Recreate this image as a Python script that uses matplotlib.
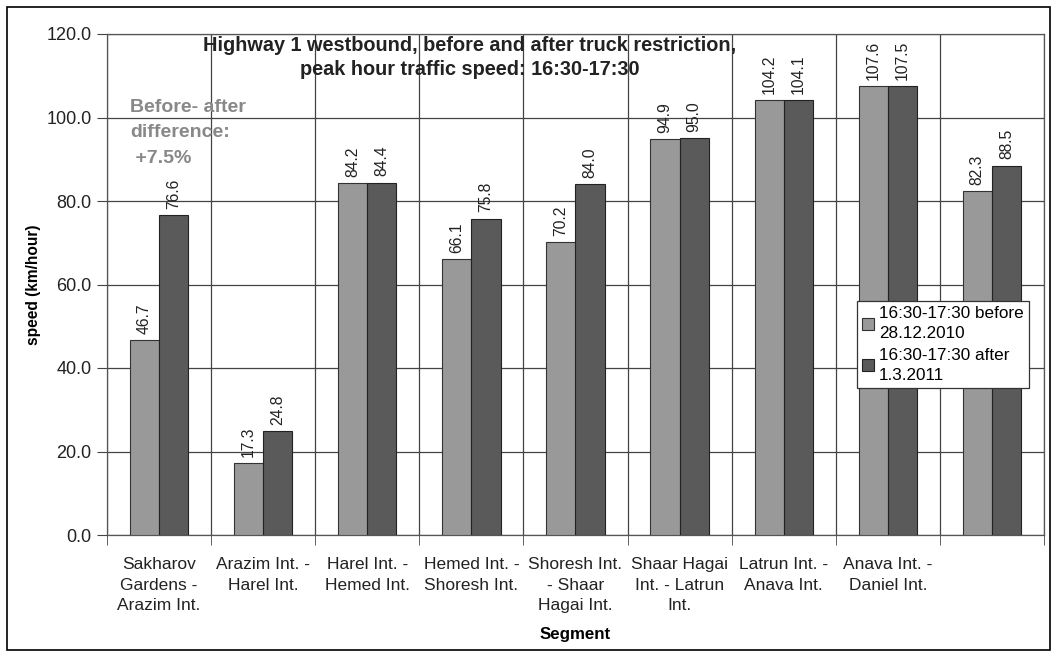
import matplotlib
matplotlib.use("Agg")
import matplotlib.pyplot as plt
import numpy as np
from matplotlib.patches import Rectangle

segments = ["Sakharov\nGardens -\nArazim Int.", "Arazim Int. -\nHarel Int.",
            "Harel Int. -\nHemed Int.", "Hemed Int. -\nShoresh Int.",
            "Shoresh Int.\n- Shaar\nHagai Int.", "Shaar Hagai\nInt. - Latrun\nInt.",
            "Latrun Int. -\nAnava Int.", "Anava Int. -\nDaniel Int.", ""]
before = [46.7, 17.3, 84.2, 66.1, 70.2, 94.9, 104.2, 107.6, 82.3]
after = [76.6, 24.8, 84.4, 75.8, 84.0, 95.0, 104.1, 107.5, 88.5]

plt.rcParams['font.family'] = ['Liberation Sans', 'DejaVu Sans']

fig = plt.figure(figsize=(10.58, 6.56), dpi=100)
ax = fig.add_axes([107/1058, 1 - 535/656, (1044 - 107)/1058, (535 - 34)/656])

x = np.arange(len(segments))
w = 0.28
b1 = ax.bar(x - w/2, before, w, color="#999999", edgecolor="#333333", linewidth=0.8,
            label="16:30-17:30 before\n28.12.2010", zorder=3)
b2 = ax.bar(x + w/2, after, w, color="#5a5a5a", edgecolor="#222222", linewidth=0.8,
            label="16:30-17:30 after\n1.3.2011", zorder=3)

for bars, vals in ((b1, before), (b2, after)):
    for r, v in zip(bars, vals):
        ax.text(r.get_x() + r.get_width()/2, v + 1.5, "%.1f" % v, rotation=90,
                ha="center", va="bottom", fontsize=11.3, color="#222222", zorder=4)

ax.set_ylim(0, 120)
ax.set_xlim(-0.5, len(segments) - 0.5)
ax.set_yticks(np.arange(0, 121, 20))
ax.set_yticklabels(["%.1f" % v for v in np.arange(0, 121, 20)], fontsize=13, color="#222222")
ax.set_xticks(x)
ax.set_xticklabels(segments, fontsize=12.5, color="#222222", linespacing=1.45)
ax.set_xticks(np.arange(-0.5, len(segments), 1), minor=True)
ax.tick_params(axis="x", which="major", length=0, pad=16)
ax.tick_params(axis="x", which="minor", length=7, color="#444444")
ax.tick_params(axis="y", length=7, color="#444444", pad=4)
ax.grid(axis="y", color="#444444", linewidth=0.9, zorder=0)
ax.grid(axis="x", which="minor", color="#444444", linewidth=0.9, zorder=0)
for s in ax.spines.values():
    s.set_color("#555555")
    s.set_linewidth(0.9)

ax.set_ylabel("speed (km/hour)", fontsize=11.2, fontweight="bold", labelpad=4)
ax.set_xlabel("Segment", fontsize=12.2, fontweight="bold", labelpad=10)

fig.text(470/1058, 1 - 36/656, "Highway 1 westbound, before and after truck restriction,\npeak hour traffic speed: 16:30-17:30",
         ha="center", va="top", fontsize=14.3, fontweight="bold", color="#222222", linespacing=1.35)
fig.text(130/1058, 1 - 99/656, "Before- after\ndifference:\n +7.5%", ha="left", va="top",
         fontsize=14, fontweight="bold", color="#888888", linespacing=1.65)

leg = ax.legend(loc="upper left", bbox_to_anchor=(857/1058, 1 - 301/656), bbox_transform=fig.transFigure,
                fontsize=12.3, frameon=True, fancybox=False, edgecolor="#333333", framealpha=1,
                handlelength=0.7, handleheight=0.7, handletextpad=0.3, borderpad=0.3,
                labelspacing=0.4, borderaxespad=0)
for t in leg.get_texts():
    t.set_linespacing(1.4)
leg.get_frame().set_linewidth(0.9)

fig.add_artist(Rectangle((7/1058, 6/656), 1043/1058, 643/656, transform=fig.transFigure,
                         fill=False, edgecolor="black", linewidth=1.2))

fig.savefig("out.png", dpi=100)
